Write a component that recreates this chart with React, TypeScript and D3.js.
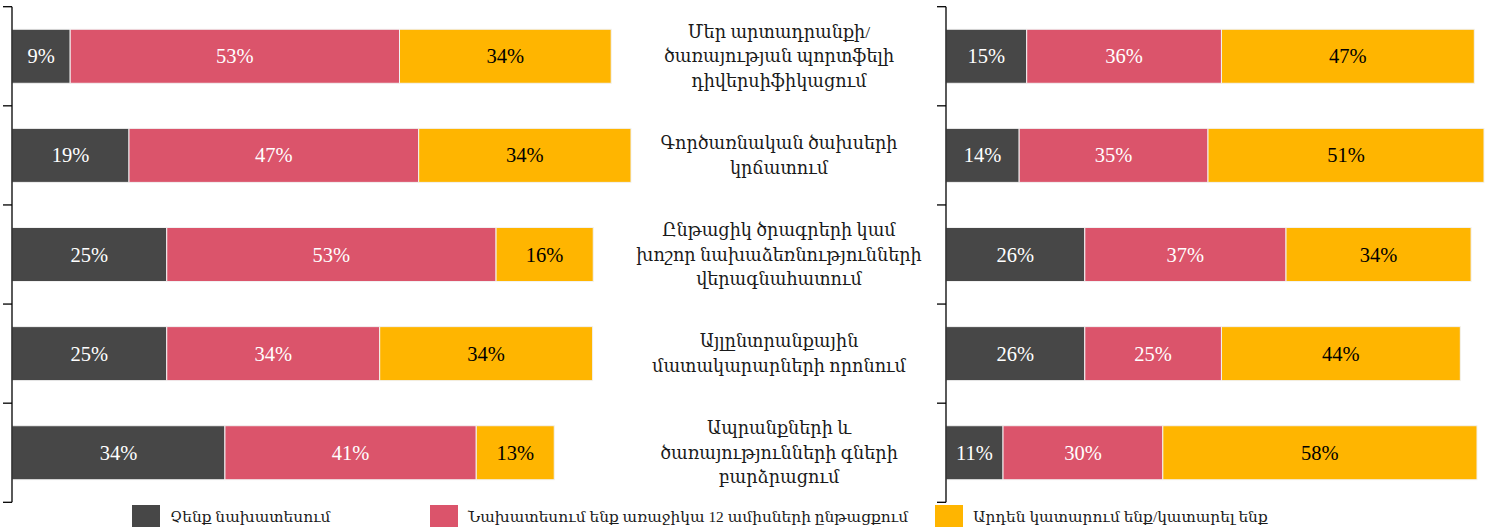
import React from "react";
import * as d3 from "d3";

const categories: string[][] = [
  ["Մեր արտադրանքի/", "ծառայության պորտֆելի", "դիվերսիֆիկացում"],
  ["Գործառնական ծախսերի", "կրճատում"],
  ["Ընթացիկ ծրագրերի կամ", "խոշոր նախաձեռնությունների", "վերագնահատում"],
  ["Այլընտրանքային", "մատակարարների որոնում"],
  ["Ապրանքների և", "ծառայությունների գների", "բարձրացում"],
];

const seriesNames = [
  "Չենք նախատեսում",
  "Նախատեսում ենք առաջիկա 12 ամիսների ընթացքում",
  "Արդեն կատարում ենք/կատարել ենք",
];

// left panel
const leftNotPlanned = [9.4, 18.9, 25.0, 25.0, 34.4];
const leftPlanning = [53.2, 46.8, 53.2, 34.4, 40.6];
const leftAlready = [34.2, 34.3, 15.7, 34.4, 12.6];

// right panel
const rightNotPlanned = [15.0, 13.6, 25.8, 25.8, 10.6];
const rightPlanning = [36.2, 35.1, 37.4, 25.4, 29.7];
const rightAlready = [47.0, 51.3, 34.4, 44.4, 58.4];

const colors = ["#474747", "#DB546B", "#FFB500"];
const textColors = ["#ffffff", "#ffffff", "#000000"];

const FONT = "'Liberation Serif', 'DejaVu Serif', 'Times New Roman', serif";

const W = 1488;
const H = 527;

type Panel = { x0: number; x1: number; series: number[][] };

export default function App() {
  const idx = categories.map((_, i) => String(i));
  const y = d3
    .scaleBand<string>()
    .domain(idx)
    .range([6.7, 502.3])
    .paddingInner(0.455)
    .paddingOuter(0.2275);
  const step = y.step();
  const tickYs = d3.range(categories.length + 1).map((i) => y.range()[0] + i * step);

  const panels: Panel[] = [
    { x0: 12, x1: 631, series: [leftNotPlanned, leftPlanning, leftAlready] },
    { x0: 946, x1: 1484, series: [rightNotPlanned, rightPlanning, rightAlready] },
  ];

  const fmt = (v: number) => `${Math.round(v)}%`;

  return (
    <svg
      width={W}
      height={H}
      style={{ position: "absolute", left: 0, top: 0, background: "#fff" }}
      fontFamily={FONT}
    >
      {panels.map((p, pi) => {
        const x = d3.scaleLinear().domain([0, 100]).range([p.x0, p.x1]);
        return (
          <g key={pi}>
            {idx.map((c, ci) => {
              let acc = 0;
              return (
                <g key={c}>
                  {p.series.map((s, si) => {
                    const v = s[ci];
                    const xs = x(acc);
                    const xe = x(acc + v);
                    acc += v;
                    const yy = y(c)!;
                    return (
                      <g key={si}>
                        <rect
                          x={xs}
                          y={yy}
                          width={xe - xs}
                          height={y.bandwidth()}
                          fill={colors[si]}
                          stroke="#f2f2f2"
                          strokeWidth={1}
                        />
                        <text
                          x={(xs + xe) / 2}
                          y={yy + y.bandwidth() / 2}
                          textAnchor="middle"
                          dominantBaseline="central"
                          fontSize={20.5}
                          fill={textColors[si]}
                        >
                          {fmt(v)}
                        </text>
                      </g>
                    );
                  })}
                </g>
              );
            })}
            <line
              x1={p.x0}
              x2={p.x0}
              y1={tickYs[0]}
              y2={tickYs[tickYs.length - 1]}
              stroke="#000"
              strokeWidth={1.3}
            />
            {tickYs.map((t, ti) => (
              <line
                key={ti}
                x1={p.x0 - 9}
                x2={p.x0}
                y1={t}
                y2={t}
                stroke="#000"
                strokeWidth={1.3}
              />
            ))}
          </g>
        );
      })}

      {idx.map((c, ci) => {
        const lines = categories[ci];
        const cy = y(c)! + y.bandwidth() / 2;
        const lh = 24.5;
        return (
          <text
            key={c}
            x={779}
            textAnchor="middle"
            fontSize={17.6}
            fill="#1a1a1a"
          >
            {lines.map((l, li) => (
              <tspan
                key={li}
                x={779}
                y={cy + (li - (lines.length - 1) / 2) * lh}
                dominantBaseline="central"
              >
                {l}
              </tspan>
            ))}
          </text>
        );
      })}

      {seriesNames.map((n, i) => {
        const lx = [132, 430, 935][i];
        return (
          <g key={i}>
            <rect x={lx} y={505} width={28} height={22} fill={colors[i]} />
            <text
              x={lx + 38}
              y={516}
              dominantBaseline="central"
              fontSize={15.4}
              fill="#1a1a1a"
            >
              {n}
            </text>
          </g>
        );
      })}
    </svg>
  );
}
